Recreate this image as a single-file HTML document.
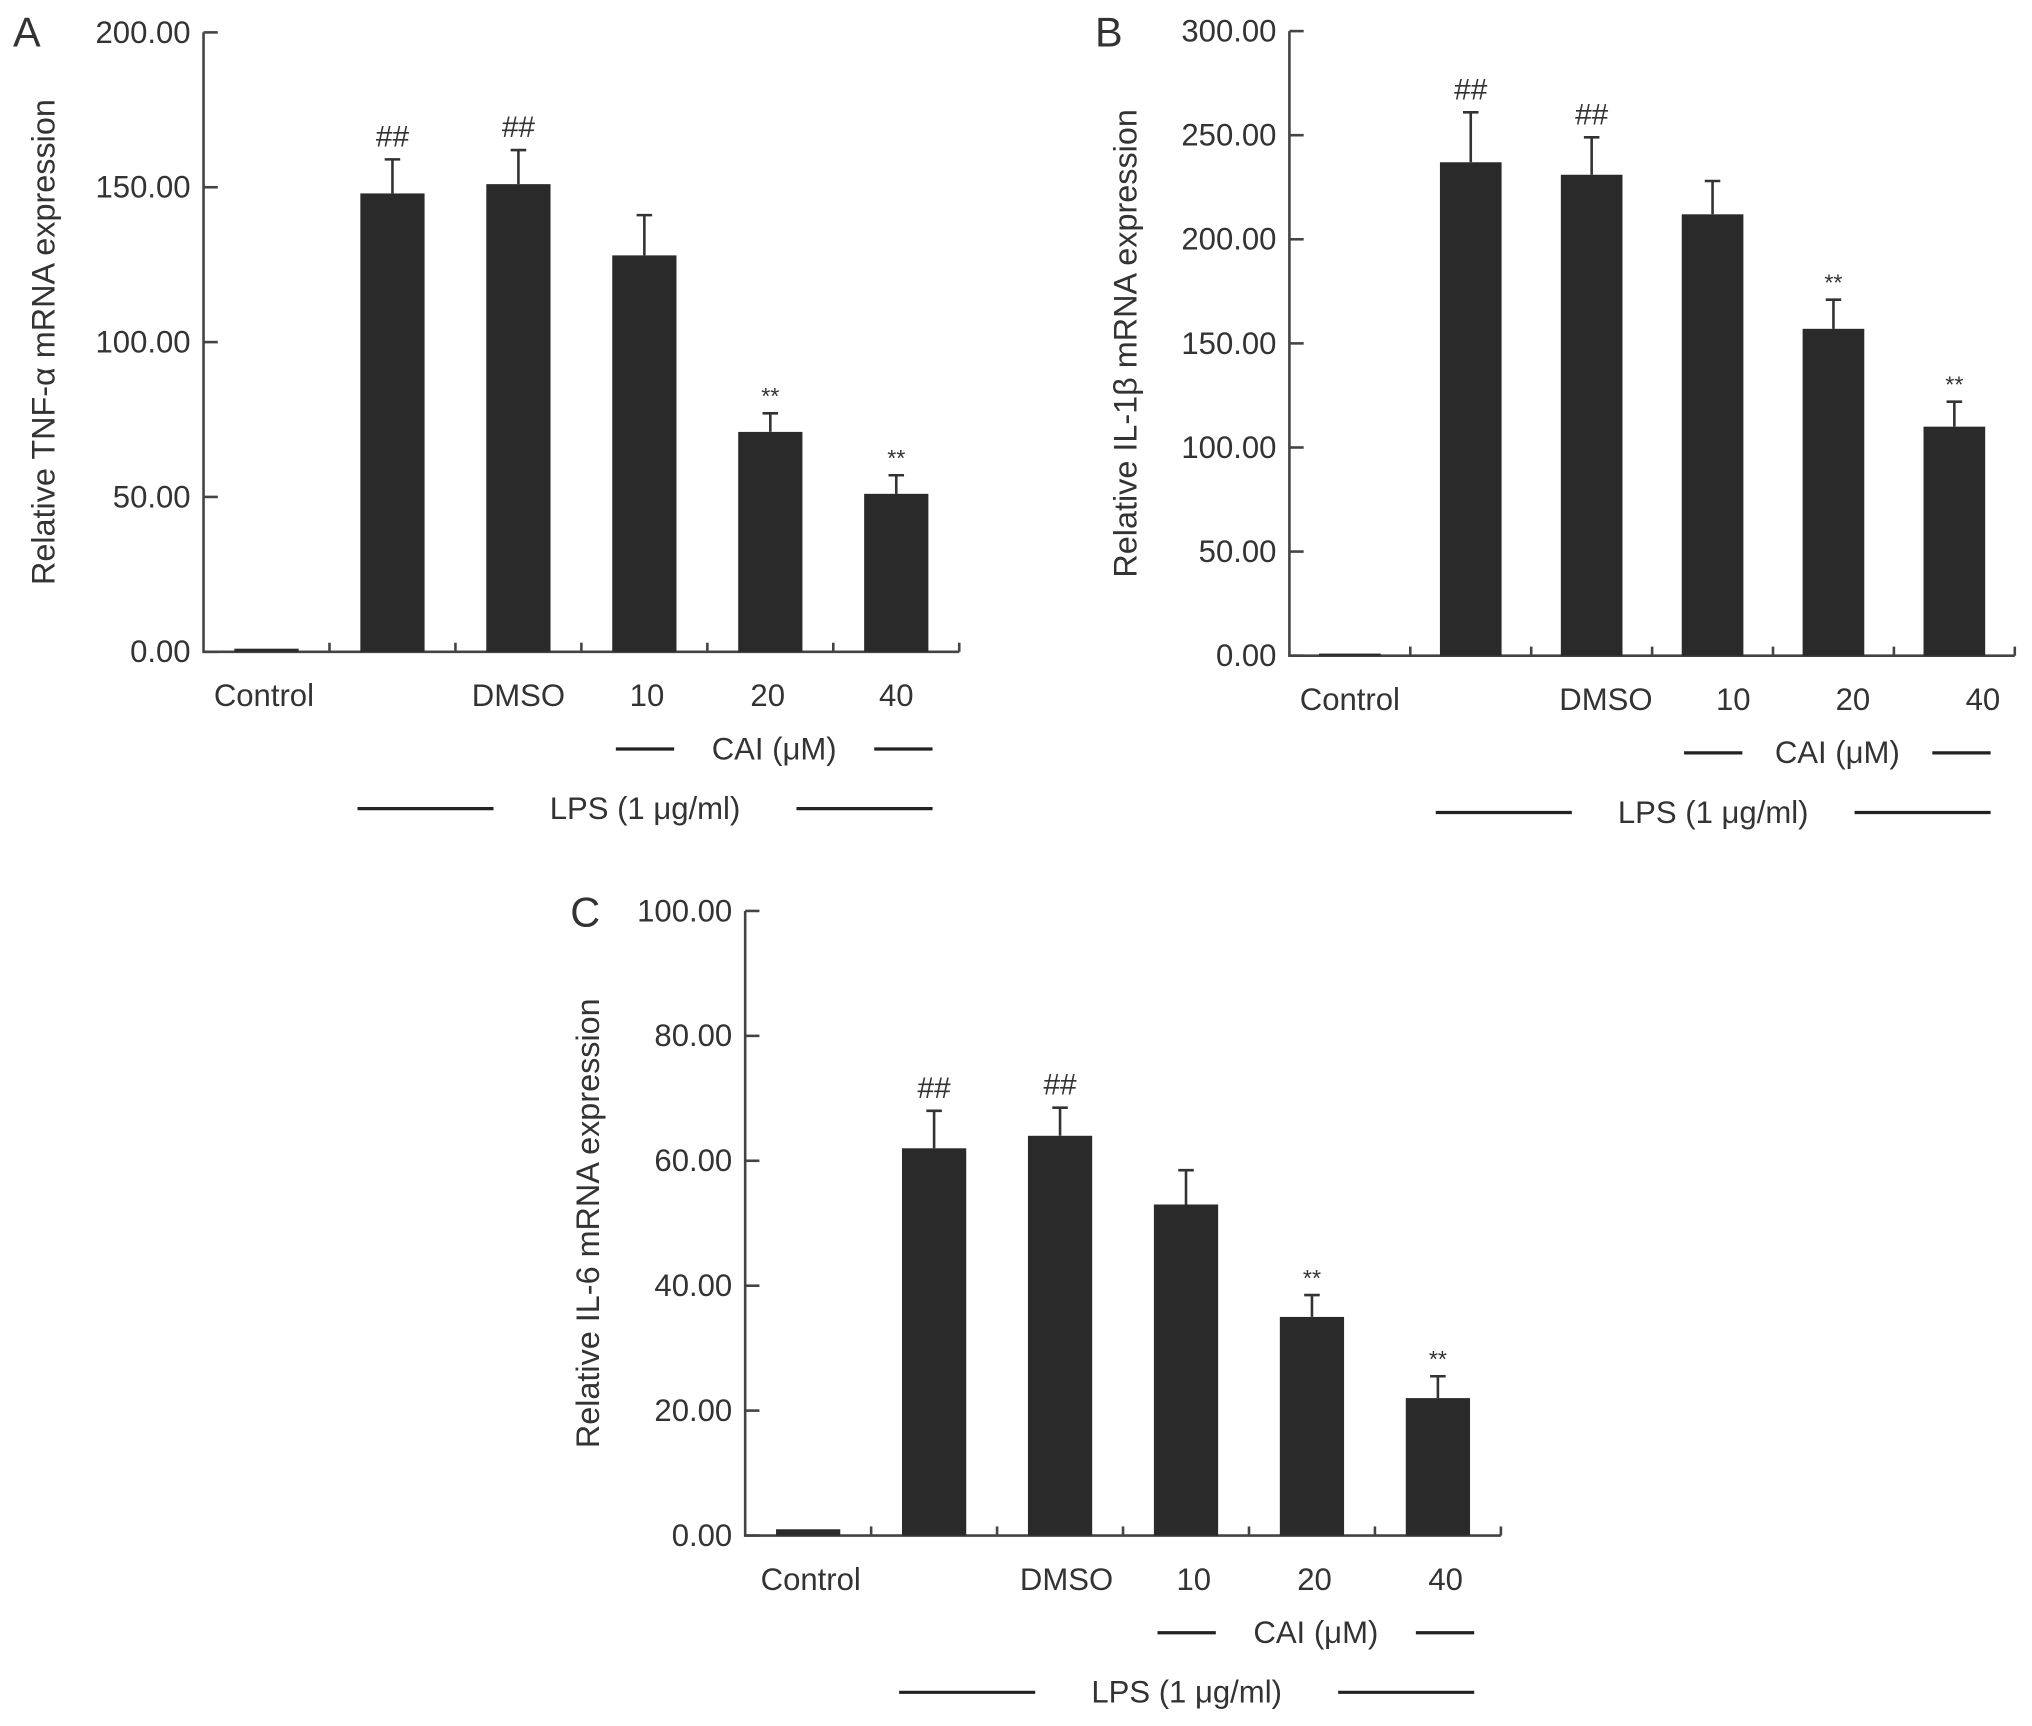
<!DOCTYPE html>
<html><head><meta charset="utf-8"><style>
html,body{margin:0;padding:0;background:#fff;}
svg{display:block;}
text{font-family:"Liberation Sans",sans-serif;fill:#333;}
</style></head><body>
<svg id="fig" width="2032" height="1726" viewBox="0 0 1568 1332" xmlns="http://www.w3.org/2000/svg"></svg>
<script>
const catsA=["Control","","DMSO","10","20","40"];
const valsA=[1,148,151,128,71,51];
const errA=[1.5,159,162,141,77,57];
const marksA=["","##","##","","**","**"];
const ticksA=[0,50,100,150,200];

const valsB=[1,237,231,212,157,110];
const errB=[1.5,261,249,228,171,122];
const marksB=["","##","##","","**","**"];
const ticksB=[0,50,100,150,200,250,300];

const valsC=[1,62,64,53,35,22];
const errC=[1.3,68,68.5,58.5,38.5,25.5];
const marksC=["","##","##","","**","**"];
const ticksC=[0,20,40,60,80,100];

const NS="http://www.w3.org/2000/svg";
const svg=document.getElementById('fig');
function mk(tag,attrs,parent,txt){const e=document.createElementNS(NS,tag);for(const k in attrs)e.setAttribute(k,attrs[k]);if(txt!==undefined)e.textContent=txt;parent.appendChild(e);return e;}

function panel(cfg){
  const g=mk('g',{},svg);
  
  
  const yScale=v=>cfg.y0-(v/cfg.ymax)*(cfg.y0-cfg.ytop);
  const xScale=i=>cfg.x0+cfg.step*(i+0.5);
  const L=mk('text',{x:cfg.lx,y:cfg.ly,'font-size':32},g,cfg.id);
  
  const ax=mk('path',{d:`M${cfg.x0},${cfg.ytop} V${cfg.y0} H${cfg.x0+cfg.step*6}`,stroke:'#444','stroke-width':2,fill:'none'},g);
  
  cfg.ticks.forEach(t=>{
    const y=yScale(t);
    const tl=mk('line',{x1:cfg.x0,x2:cfg.x0+11,y1:y,y2:y,stroke:'#444','stroke-width':2},g);
    
    const tt=mk('text',{x:cfg.x0-10,y:y+8,'font-size':24,'text-anchor':'end'},g,t.toFixed(2));
    
  });
  for(let i=1;i<=6;i++){
    const x=cfg.x0+cfg.step*i;
    const xt=mk('line',{x1:x,x2:x,y1:cfg.y0,y2:cfg.y0-7,stroke:'#444','stroke-width':2},g);
    
  }
  const bw=cfg.step*0.51;
  cfg.vals.forEach((v,i)=>{
    const cx=xScale(i);
    const top=yScale(v), et=yScale(cfg.err[i]);
    const b=mk('rect',{x:cx-bw/2,y:top,width:bw,height:cfg.y0-top,fill:'#2a2a2a'},g);
    
    if(i>0){
      const e=mk('path',{d:`M${cx},${top} V${et} M${cx-6},${et} H${cx+6}`,stroke:'#333','stroke-width':2,fill:'none'},g);
      
    }
    if(cfg.marks[i]){
      const hash=cfg.marks[i]==='##';
      const m=mk('text',{x:cx,y:et-(hash?10:7),'font-size':hash?23:18,'text-anchor':'middle','font-family':'Liberation Serif'},g,cfg.marks[i]);
      
    }
    const lbl=catsA[i];
    if(lbl){
      const t=mk('text',{x:cx+cfg.loff[i],y:cfg.y0+42,'font-size':24,'text-anchor':'middle'},g,lbl);
      
    }
  });
  const yt=mk('text',{x:0,y:0,'font-size':25,'text-anchor':'middle',transform:`translate(${cfg.tx},${(cfg.ytop+cfg.y0)/2}) rotate(-90)`},g,cfg.title);
  
  const c1=xScale(3)-22, c2=xScale(5)+28, cy=cfg.y0+75;
  const cl=mk('path',{d:`M${c1},${cy} h45 M${c2-45},${cy} h45`,stroke:'#222','stroke-width':2.5},g);
  
  const ct=mk('text',{x:(c1+c2)/2,y:cy+8,'font-size':24,'text-anchor':'middle'},g,'CAI (μM)');
  
  const l1=xScale(1)-27, l2=c2, ly=cfg.y0+121;
  const ll=mk('path',{d:`M${l1},${ly} h105 M${l2-105},${ly} h105`,stroke:'#222','stroke-width':2.5},g);
  
  const lt=mk('text',{x:(l1+l2)/2,y:ly+8,'font-size':24,'text-anchor':'middle'},g,'LPS (1 μg/ml)');
  
}

panel({id:'A',x0:157,step:97.2,y0:503,ytop:25,ymax:200,ticks:ticksA,vals:valsA,err:errA,marks:marksA,
  lx:10,ly:36,tx:42,title:'Relative TNF-α mRNA expression',loff:[-2,0,0,2,-2,0]});
panel({id:'B',x0:995,step:93.3,y0:506,ytop:24,ymax:300,ticks:ticksB,vals:valsB,err:errB,marks:marksB,
  lx:845,ly:36,tx:877,title:'Relative IL-1β mRNA expression',loff:[0,0,11,16,15,22]});
panel({id:'C',x0:575,step:97.2,y0:1185,ytop:703,ymax:100,ticks:ticksC,vals:valsC,err:errC,marks:marksC,
  lx:440,ly:715,tx:462,title:'Relative IL-6 mRNA expression',loff:[2,0,5,6,2,6]});
</script>
</body></html>
